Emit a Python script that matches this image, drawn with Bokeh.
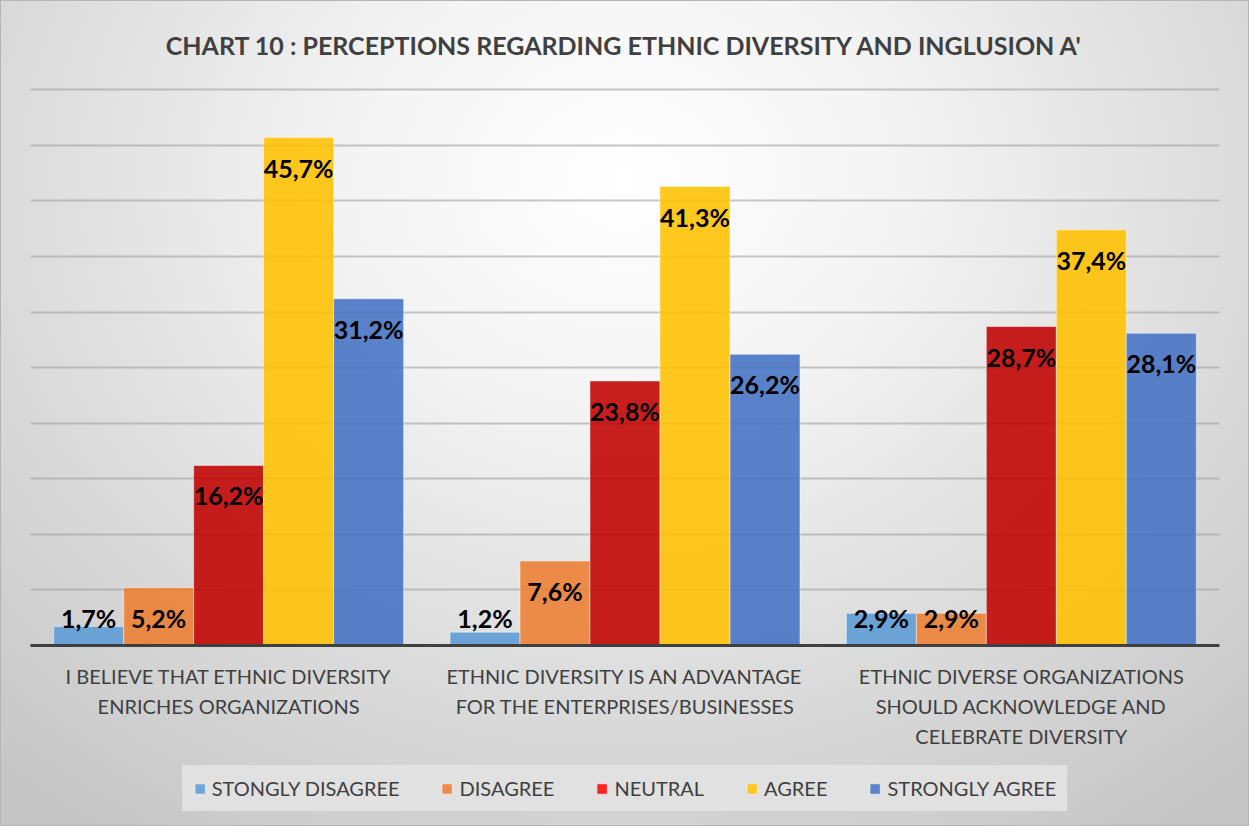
from bokeh.plotting import figure
from bokeh.layouts import column
from bokeh.models import (ColumnDataSource, FactorRange, Legend, LegendItem,
                          SingleIntervalTicker)
from bokeh.transform import dodge
from bokeh.core.properties import value
from bokeh.embed import file_html
from bokeh.resources import INLINE

# ---- data -------------------------------------------------------------
categories = [
    "I BELIEVE THAT ETHNIC DIVERSITY\nENRICHES ORGANIZATIONS",
    "ETHNIC DIVERSITY IS AN ADVANTAGE\nFOR THE ENTERPRISES/BUSINESSES",
    "ETHNIC DIVERSE ORGANIZATIONS\nSHOULD ACKNOWLEDGE AND\nCELEBRATE DIVERSITY",
]
series_names = ["STONGLY DISAGREE", "DISAGREE", "NEUTRAL", "AGREE", "STRONGLY AGREE"]
strongly_disagree = [1.7, 1.2, 2.9]
disagree = [5.2, 7.6, 2.9]
neutral = [16.2, 23.8, 28.7]
agree = [45.7, 41.3, 37.4]
strongly_agree = [31.2, 26.2, 28.1]
series_values = [strongly_disagree, disagree, neutral, agree, strongly_agree]

bar_colors = ["#5b9bd5", "#ed7d31", "#c00000", "#ffc000", "#4472c4"]
swatch_colors = ["#5b9bd5", "#ed7d31", "#ff0000", "#ffc000", "#4472c4"]

TITLE = "CHART 10 : PERCEPTIONS REGARDING ETHNIC DIVERSITY AND INGLUSION A'"
FONT = "Lato"
TEXT_COLOR = "#404040"

W, H_MAIN, H_LEG = 1249, 750, 76

p = figure(
    width=W, height=H_MAIN,
    x_range=FactorRange(*categories, range_padding=0),
    y_range=(0, 50.3),
    output_backend="svg", toolbar_location=None,
    min_border_left=30, min_border_right=30,
    min_border_top=86, min_border_bottom=105,
)
p.background_fill_alpha = 0
p.border_fill_alpha = 0
p.outline_line_color = None

# title
p.title.text = TITLE
p.title.align = "center"
p.title.text_font = FONT
p.title.text_font_style = "bold"
p.title.text_font_size = "25px"
p.title.text_color = TEXT_COLOR
p.title.standoff = 53

# bars, one renderer per series, dodged within each category
bar_w = 0.1766
for i, (name, vals) in enumerate(zip(series_names, series_values)):
    offset = (i - 2) * bar_w
    labels = [f"{v:.1f}".replace(".", ",") + "%" for v in vals]
    label_y = [max(v - 2.7, 2.5) for v in vals]
    src = ColumnDataSource(dict(cat=categories, val=vals, lab=labels, ly=label_y))
    p.vbar(x=dodge("cat", offset, range=p.x_range), top="val", width=bar_w,
           source=src, fill_color=bar_colors[i], fill_alpha=0.88,
           line_color="white", line_alpha=0.45, line_width=1)
    p.text(x=dodge("cat", offset, range=p.x_range), y="ly", text="lab",
           source=src, text_align="center", text_baseline="middle",
           text_font=value(FONT), text_font_style="bold",
           text_font_size="25px", text_color="black")

# axes and grid
p.yaxis.visible = False
p.ygrid.ticker = SingleIntervalTicker(interval=5)
p.ygrid.grid_line_color = "#9a9a9a"
p.ygrid.grid_line_alpha = 0.55
p.ygrid.grid_line_width = 2
p.xgrid.visible = False

xa = p.xaxis[0]
xa.axis_line_color = TEXT_COLOR
xa.axis_line_width = 3
xa.major_tick_line_color = None
xa.minor_tick_line_color = None
xa.major_label_text_font = FONT
xa.major_label_text_font_size = "20px"
xa.major_label_text_color = TEXT_COLOR
xa.major_label_standoff = 12
xa.major_label_text_line_height = 1.25

# legend strip underneath; swatch renderers sit outside the visible range
lf = figure(width=W, height=H_LEG, x_range=(0, 1), y_range=(0, 1),
            output_backend="svg", toolbar_location=None,
            min_border=0, outline_line_color=None)
lf.background_fill_alpha = 0
lf.border_fill_alpha = 0
lf.axis.visible = False
lf.grid.visible = False
items = []
for name, c in zip(series_names, swatch_colors):
    r = lf.quad(left=[2], right=[3], top=[2], bottom=[3], fill_color=c,
                fill_alpha=0.85, line_color="white", line_alpha=0.6)
    items.append(LegendItem(label=name, renderers=[r]))
legend = Legend(items=items, orientation="horizontal", location="center",
                background_fill_color="#e1e1e1", background_fill_alpha=1.0,
                border_line_alpha=0, glyph_width=13, glyph_height=13,
                label_text_font=FONT, label_text_font_size="20px",
                label_text_color=TEXT_COLOR, label_standoff=6, spacing=41,
                padding=11, margin=0)
lf.add_layout(legend, "center")

page = column(p, lf, spacing=0)
page.styles = {
    "background": "radial-gradient(ellipse 75% 95% at 50% 22%, #ffffff 0%, #f3f3f3 30%, #dcdcdc 65%, #c6c6c6 100%)",
    "box-shadow": "inset 0 0 0 1px #b5b5b5",
}

open("out.html", "w").write(file_html(page, INLINE))
